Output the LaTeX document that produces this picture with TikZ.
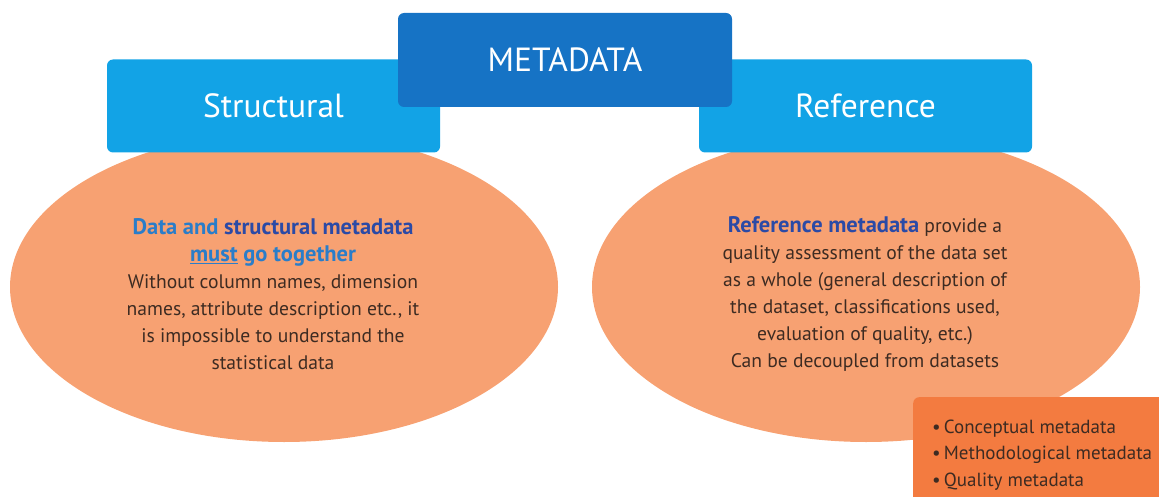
\documentclass[tikz,border=0pt]{standalone}
\usepackage{fontspec}
\setmainfont{PT Sans}
\usetikzlibrary{shapes.geometric}

\definecolor{skyblue}{HTML}{12A3E6}
\definecolor{deepblue}{HTML}{1673C5}
\definecolor{peach}{HTML}{F7A172}
\definecolor{tangerine}{HTML}{F37B40}
\definecolor{bodybrown}{HTML}{3D2B22}
\definecolor{titleblue}{HTML}{2A7DC9}
\definecolor{titlenavy}{HTML}{2B4AA6}

\begin{document}
\begin{tikzpicture}[x=1pt,y=-1pt,
	blob/.style={ellipse, fill=peach, minimum width=548pt, minimum height=310pt, inner sep=0pt},
	tab/.style={rectangle, rounded corners=6pt, minimum width=333pt, minimum height=93pt, inner sep=0pt, text=white, font=\fontsize{33.5}{38}\selectfont},
	body/.style={text=bodybrown, align=center, font=\fontsize{19.6}{27}\selectfont, inner sep=0pt}]
	
	\useasboundingbox (0,0) rectangle (1159,497);
	
	% Elipses
	\draw (284,287) node[blob] (structuralblob) {};
	\draw (866,287) node[blob] (referenceblob) {};
	
	% Lista
	\draw (913,397) node[anchor=north west, fill=tangerine, rounded corners=6pt, minimum width=270pt, minimum height=115pt, inner sep=0pt] (typesbox) {};
	
	\node[anchor=west, text=bodybrown, align=left, inner sep=0pt, font=\fontsize{19}{26.5}\selectfont] (typeslist) at (932,455)
	{
		•\,Conceptual metadata \\
		•\,Methodological metadata \\
		•\,Quality metadata
	};
	
	% Pestanas
	\draw (273.5,106) node[tab, fill=skyblue] (structural) {Structural};
	\draw (865.5,106) node[tab, fill=skyblue] (reference) {Reference};
	\draw (565,60) node[tab, fill=deepblue, minimum width=334pt, minimum height=94pt] (metadata) {METADATA};
	
	% Textos
	\node[body] (structuraltext) at (273,294)
	{
		{\fontsize{22.5}{27}\selectfont\bfseries\color{titleblue}Data and \textcolor{titlenavy}{structural metadata}} \\
		{\fontsize{22.5}{27}\selectfont\bfseries\color{titleblue}\underline{must} go together} \\
		Without column names, dimension \\
		names, attribute description etc., it \\
		is impossible to understand the \\
		statistical data
	};
	
	\node[body] (referencetext) at (865,294)
	{
		{\fontsize{22.5}{27}\selectfont\bfseries\color{titlenavy}Reference metadata} provide a \\
		quality assessment of the data set \\
		as a whole (general description of \\
		the dataset, classifications used, \\
		evaluation of quality, etc.) \\
		Can be decoupled from datasets
	};
	
\end{tikzpicture}
\end{document}
